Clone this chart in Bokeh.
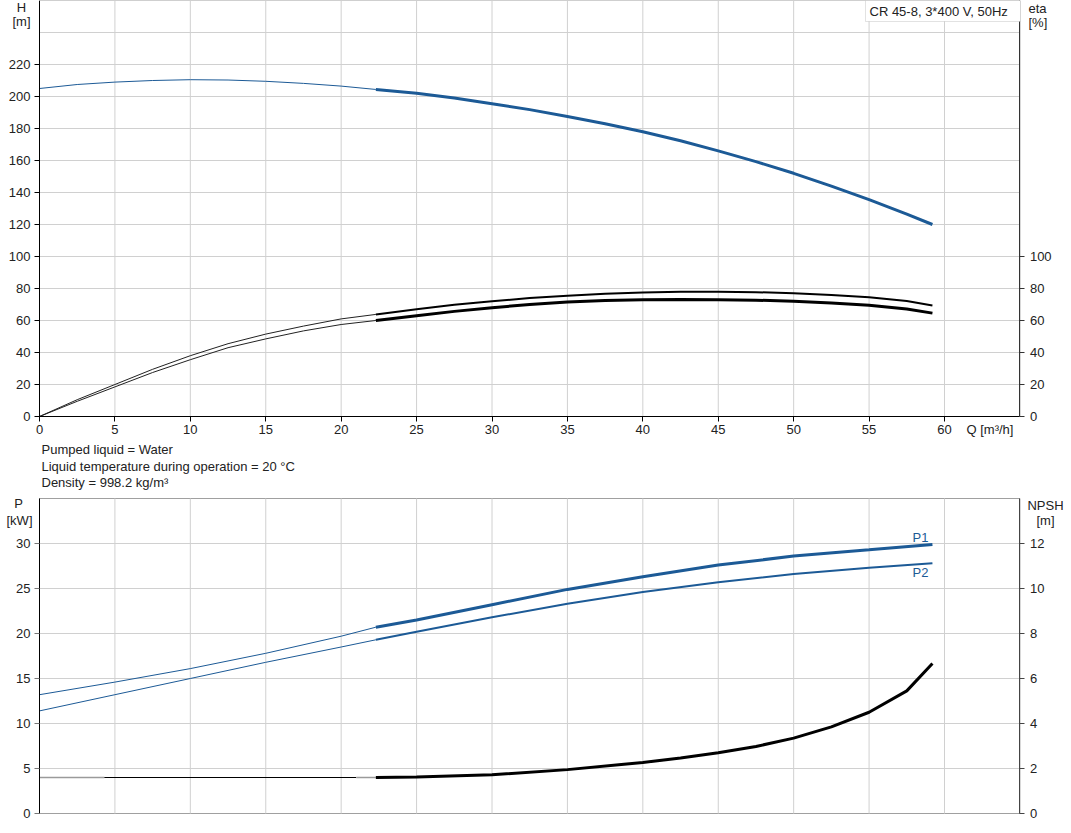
from bokeh.plotting import figure
from bokeh.models import Range1d, LinearAxis, FixedTicker, Label, BoxAnnotation
from bokeh.embed import file_html
from bokeh.resources import INLINE

FONT = "Liberation Sans"
FS = "13px"
BLUE = "#1c5a96"
TXT = "#222222"
GRID = "#d0d0d0"
BOX = "#a0a0a0"
Q_SPLIT = 22.3  # end of thin part of curves

# ---------------- data ----------------
q_h = [0, 2.5, 5, 7.5, 10, 12.5, 15, 17.5, 20, 22.3, 25, 27.5, 30, 32.5, 35, 37.5, 40, 42.5, 45, 47.5, 50, 52.5, 55, 57.5, 59.2]
h_m = [205, 207.5, 209, 210, 210.5, 210.3, 209.5, 208.2, 206.5, 204.4, 202, 199, 195.5, 191.8, 187.5, 183, 178, 172.3, 166, 159.3, 152, 144, 135.5, 126.5, 120]

q_eta = [0, 2.5, 5, 7.5, 10, 12.5, 15, 17.5, 20, 22.3, 25, 27.5, 30, 32.5, 35, 37.5, 40, 42.5, 45, 47.5, 50, 52.5, 55, 57.5, 59.2]
eta_pump = [0, 10.5, 20, 29.5, 38, 45.5, 51.5, 56.5, 61, 63.8, 67, 69.8, 72, 74, 75.5, 76.7, 77.5, 77.9, 78, 77.7, 77, 76, 74.5, 72.2, 69.4]
eta_total = [0, 9.5, 18.5, 27.5, 35.5, 43, 48.5, 53.5, 57.5, 60, 63, 65.7, 68, 70, 71.5, 72.5, 73, 73.2, 73, 72.7, 72, 71, 69.5, 67.2, 64.6]

q_p = [0, 5, 10, 15, 20, 22.3, 25, 30, 35, 40, 45, 50, 55, 59.2]
p1_kw = [13.2, 14.6, 16.1, 17.8, 19.7, 20.7, 21.5, 23.2, 24.9, 26.3, 27.6, 28.6, 29.3, 29.9]
p2_kw = [11.4, 13.2, 15.0, 16.8, 18.5, 19.3, 20.2, 21.8, 23.3, 24.6, 25.7, 26.6, 27.3, 27.8]

q_npsh = [0, 4.3, 21.0, 22.3, 25, 30, 35, 40, 42.5, 45, 47.5, 50, 52.5, 55, 57.5, 59.2]
npsh_m = [1.6, 1.6, 1.6, 1.6, 1.62, 1.72, 1.95, 2.27, 2.47, 2.7, 2.98, 3.35, 3.85, 4.5, 5.45, 6.67]

x_ticks = [0, 5, 10, 15, 20, 25, 30, 35, 40, 45, 50, 55, 60]
x_grid = [5, 10, 15, 20, 25, 30, 35, 40, 45, 50, 55, 60]
h_ticks = [0, 20, 40, 60, 80, 100, 120, 140, 160, 180, 200, 220]
h_grid = [20, 40, 60, 80, 100, 120, 140, 160, 180, 200, 220, 240]
eta_ticks = [0, 20, 40, 60, 80, 100]
p_ticks = [0, 5, 10, 15, 20, 25, 30]
p_grid = [5, 10, 15, 20, 25, 30]
npsh_ticks = [0, 2, 4, 6, 8, 10, 12]

Q_MAX, H_MAX, P_MAX, NPSH_MAX = 65, 260, 35, 14

title_text = "CR 45-8, 3*400 V, 50Hz"
info_lines = ["Pumped liquid = Water",
              "Liquid temperature during operation = 20 \u00b0C",
              "Density = 998.2 kg/m\u00b3"]

# ---------------- page geometry (pixels) ----------------
W, H = 1070, 832
X0_PX, X60_PX = 39, 944          # Q = 0 and Q = 60
TOP0_PX, TOP100_PX = 416, 256    # H = 0 and H = 100
BOT0_PX, BOT30_PX = 813, 543     # P = 0 and P = 30 (NPSH = 12)

sx = (X60_PX - X0_PX) / 60.0
sh = (TOP0_PX - TOP100_PX) / 100.0
sp = (BOT0_PX - BOT30_PX) / 30.0
sn = (BOT0_PX - BOT30_PX) / 12.0

p = figure(width=W, height=H, title=None, toolbar_location=None, output_backend="svg",
           x_axis_type=None, y_axis_type=None, min_border=0,
           x_range=Range1d(-X0_PX / sx, (W - X0_PX) / sx),
           y_range=Range1d(-(H - TOP0_PX) / sh, TOP0_PX / sh))
p.outline_line_color = None
p.background_fill_color = "white"
p.border_fill_color = "white"
p.xgrid.visible = False
p.ygrid.visible = False
p.extra_y_ranges = {
    "eta": Range1d(-(H - TOP0_PX) / sh, TOP0_PX / sh),
    "p": Range1d(-(H - BOT0_PX) / sp, BOT0_PX / sp),
    "npsh": Range1d(-(H - BOT0_PX) / sn, BOT0_PX / sn),
}

# ---- plot boxes and grids ----
p.quad(left=[0], right=[Q_MAX], bottom=[0], top=[H_MAX], fill_color=None, line_color=BOX, line_width=1)
p.quad(left=[0], right=[Q_MAX], bottom=[0], top=[P_MAX], fill_color=None, line_color=BOX, line_width=1,
       y_range_name="p")
p.segment(x0=x_grid, y0=[0] * len(x_grid), x1=x_grid, y1=[H_MAX] * len(x_grid), line_color=GRID, line_width=1)
p.segment(x0=[0] * len(h_grid), y0=h_grid, x1=[Q_MAX] * len(h_grid), y1=h_grid, line_color=GRID, line_width=1)
p.segment(x0=x_grid, y0=[0] * len(x_grid), x1=x_grid, y1=[P_MAX] * len(x_grid), line_color=GRID, line_width=1,
          y_range_name="p")
p.segment(x0=[0] * len(p_grid), y0=p_grid, x1=[Q_MAX] * len(p_grid), y1=p_grid, line_color=GRID, line_width=1,
          y_range_name="p")


def style_axis(ax, color="#000000", standoff=4):
    ax.axis_line_color = color
    ax.major_tick_line_color = color
    ax.major_tick_out = 5
    ax.major_tick_in = 0
    ax.minor_tick_line_color = None
    ax.major_label_text_font = FONT
    ax.major_label_text_font_size = FS
    ax.major_label_text_color = TXT
    ax.major_label_standoff = standoff


# ---- axes placed at fixed locations ----
ax_h = LinearAxis(fixed_location=0, bounds=(0, H_MAX), ticker=FixedTicker(ticks=h_ticks))
style_axis(ax_h, standoff=4)
p.add_layout(ax_h, "left")
ax_eta = LinearAxis(fixed_location=Q_MAX, bounds=(0, H_MAX), y_range_name="eta",
                    ticker=FixedTicker(ticks=eta_ticks))
style_axis(ax_eta, color="#333333", standoff=5)
p.add_layout(ax_eta, "right")
ax_q = LinearAxis(fixed_location=0, bounds=(0, Q_MAX), ticker=FixedTicker(ticks=x_ticks))
style_axis(ax_q, standoff=3)
p.add_layout(ax_q, "below")
ax_p = LinearAxis(fixed_location=0, bounds=(0, P_MAX), y_range_name="p", ticker=FixedTicker(ticks=p_ticks))
style_axis(ax_p, standoff=4)
ax_p.major_tick_line_color = "#777777"
p.add_layout(ax_p, "left")
ax_n = LinearAxis(fixed_location=Q_MAX, bounds=(0, NPSH_MAX), y_range_name="npsh",
                  ticker=FixedTicker(ticks=npsh_ticks))
style_axis(ax_n, color="#444444", standoff=5)
p.add_layout(ax_n, "right")


def split(q, v, qs=Q_SPLIT):
    thin = [(a, b) for a, b in zip(q, v) if a <= qs]
    thick = [(a, b) for a, b in zip(q, v) if a >= qs]
    return list(zip(*thin)), list(zip(*thick))


# ---- top curves ----
(tq, tv), (kq, kv) = split(q_h, h_m)
p.line(tq, tv, line_color=BLUE, line_width=1)
p.line(kq, kv, line_color=BLUE, line_width=3)
(tq, tv), (kq, kv) = split(q_eta, eta_pump)
p.line(tq, tv, line_color="#222222", line_width=1, y_range_name="eta")
p.line(kq, kv, line_color="#000000", line_width=2, y_range_name="eta")
(tq, tv), (kq, kv) = split(q_eta, eta_total)
p.line(tq, tv, line_color="#222222", line_width=1, y_range_name="eta")
p.line(kq, kv, line_color="#000000", line_width=3, y_range_name="eta")

# ---- bottom curves ----
(tq, tv), (kq, kv) = split(q_p, p1_kw)
p.line(tq, tv, line_color=BLUE, line_width=1, y_range_name="p")
p.line(kq, kv, line_color=BLUE, line_width=3, y_range_name="p")
(tq, tv), (kq, kv) = split(q_p, p2_kw)
p.line(tq, tv, line_color=BLUE, line_width=1, y_range_name="p")
p.line(kq, kv, line_color=BLUE, line_width=2, y_range_name="p")

n_a = [(a, b) for a, b in zip(q_npsh, npsh_m) if a <= 4.3]
n_b = [(a, b) for a, b in zip(q_npsh, npsh_m) if 4.3 <= a <= 21.0]
n_c = [(a, b) for a, b in zip(q_npsh, npsh_m) if 21.0 <= a <= Q_SPLIT]
n_d = [(a, b) for a, b in zip(q_npsh, npsh_m) if a >= Q_SPLIT]
for seg, col, w in [(n_a, "#9a9a9a", 1.5), (n_b, "#000000", 1.2), (n_c, "#9a9a9a", 1.5), (n_d, "#000000", 3)]:
    xs, ys = zip(*seg)
    p.line(list(xs), list(ys), line_color=col, line_width=w, y_range_name="npsh")


# ---- texts ----
def lab(x, y, text, align="left", color=TXT):
    p.add_layout(Label(x=x, y=y, x_units="canvas", y_units="canvas", text=text,
                       text_align=align, text_baseline="middle", text_font=FONT,
                       text_font_size=FS, text_color=color))


lab(21, 7, "H", align="center")
lab(21, 21, "[m]", align="center")
lab(1028, 8, "eta")
lab(1028, 22, "[%]")
lab(966, 429, "Q [m\u00b3/h]")
for i, t in enumerate(info_lines):
    lab(41, 449 + 16.5 * i, t)
lab(18, 503, "P", align="center")
lab(19, 520, "[kW]", align="center")
lab(1045, 505, "NPSH", align="center")
lab(1045, 520, "[m]", align="center")
lab(912, 537, "P1", color=BLUE)
lab(912, 572, "P2", color=BLUE)

p.add_layout(BoxAnnotation(left=865, right=1020, top=0, bottom=21,
                           left_units="canvas", right_units="canvas",
                           top_units="canvas", bottom_units="canvas",
                           fill_color="white", fill_alpha=1.0, line_color=BOX, line_width=1))
lab(869, 11, title_text)

open("out.html", "w").write(file_html(p, INLINE))
